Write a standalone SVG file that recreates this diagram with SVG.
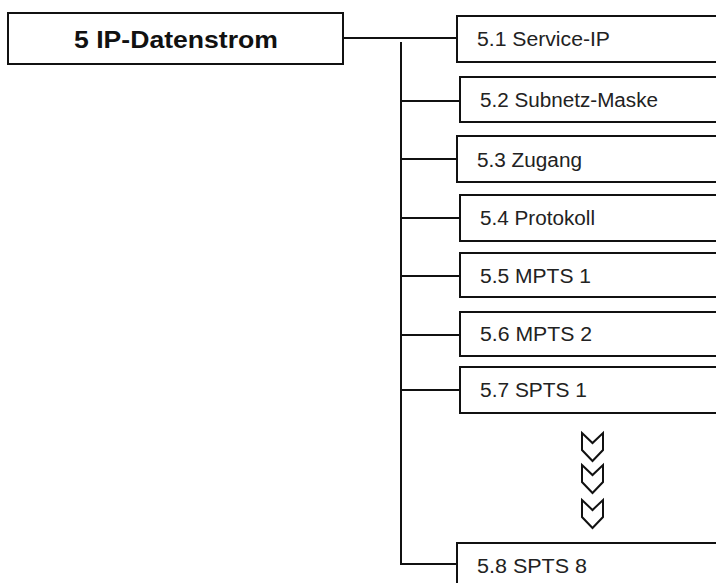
<svg xmlns="http://www.w3.org/2000/svg" width="716" height="583" viewBox="0 0 716 583">
  <style>
    .box { fill: #ffffff; stroke: #111111; stroke-width: 2; }
    .title { font-family: "Liberation Sans", Arial, sans-serif; font-weight: bold; font-size: 24.5px; fill: #111111; }
    .label { font-family: "Liberation Sans", Arial, sans-serif; font-size: 19.5px; fill: #222222; }
    .wire { fill: none; stroke: #111111; stroke-width: 2; }
    .chev { fill: #ffffff; stroke: #111111; stroke-width: 2; stroke-linejoin: miter; }
  </style>
  <rect width="716" height="583" fill="#ffffff"/>

  <g id="connectors">
    <line class="wire" x1="343" y1="38" x2="457" y2="38"/>
    <polyline class="wire" points="401,42 401,564 457,564"/>
    <line class="wire" x1="401" y1="101" x2="460" y2="101"/>
    <line class="wire" x1="401" y1="159" x2="457" y2="159"/>
    <line class="wire" x1="401" y1="218" x2="460" y2="218"/>
    <line class="wire" x1="401" y1="276" x2="460" y2="276"/>
    <line class="wire" x1="401" y1="335" x2="460" y2="335"/>
    <line class="wire" x1="401" y1="390" x2="460" y2="390"/>
  </g>

  <g id="n5">
    <rect class="box" x="8" y="13" width="335" height="51"/>
    <text class="title" x="176" y="48" text-anchor="middle" textLength="204" lengthAdjust="spacingAndGlyphs">5 IP-Datenstrom</text>
  </g>

  <g id="n5-1">
    <rect class="box" x="457" y="16" width="270" height="46"/>
    <text class="label" x="477" y="46" textLength="133" lengthAdjust="spacingAndGlyphs">5.1 Service-IP</text>
  </g>

  <g id="n5-2">
    <rect class="box" x="460" y="77" width="270" height="45"/>
    <text class="label" x="480" y="107" textLength="178" lengthAdjust="spacingAndGlyphs">5.2 Subnetz-Maske</text>
  </g>

  <g id="n5-3">
    <rect class="box" x="457" y="136" width="270" height="46"/>
    <text class="label" x="477" y="167" textLength="105" lengthAdjust="spacingAndGlyphs">5.3 Zugang</text>
  </g>

  <g id="n5-4">
    <rect class="box" x="460" y="195" width="270" height="46"/>
    <text class="label" x="480" y="225" textLength="115" lengthAdjust="spacingAndGlyphs">5.4 Protokoll</text>
  </g>

  <g id="n5-5">
    <rect class="box" x="460" y="253" width="270" height="44"/>
    <text class="label" x="480" y="283" textLength="111" lengthAdjust="spacingAndGlyphs">5.5 MPTS 1</text>
  </g>

  <g id="n5-6">
    <rect class="box" x="460" y="312" width="270" height="44"/>
    <text class="label" x="480" y="341" textLength="112" lengthAdjust="spacingAndGlyphs">5.6 MPTS 2</text>
  </g>

  <g id="n5-7">
    <rect class="box" x="460" y="367" width="270" height="46"/>
    <text class="label" x="480" y="397" textLength="107" lengthAdjust="spacingAndGlyphs">5.7 SPTS 1</text>
  </g>

  <g id="continuation">
    <path class="chev" d="M582,433 L592.5,443 L603,433 L603,450 L592.5,461 L582,450 Z"/>
    <path class="chev" d="M582,465 L592.5,475 L603,465 L603,482 L592.5,493 L582,482 Z"/>
    <path class="chev" d="M582,500 L592.5,510 L603,500 L603,517 L592.5,528 L582,517 Z"/>
  </g>

  <g id="n5-8">
    <rect class="box" x="457" y="543" width="270" height="50"/>
    <text class="label" x="477" y="573" textLength="110" lengthAdjust="spacingAndGlyphs">5.8 SPTS 8</text>
  </g>
</svg>
